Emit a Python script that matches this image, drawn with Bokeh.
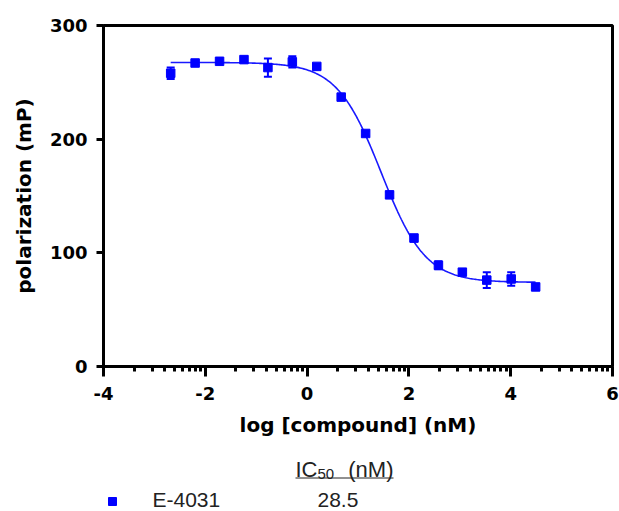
import numpy as np
from bokeh.plotting import figure
from bokeh.models import Range1d, FixedTicker, Whisker, ColumnDataSource, TeeHead
from bokeh.layouts import column
from bokeh.core.properties import value
from bokeh.embed import file_html
from bokeh.resources import INLINE

# ---- data ----
log_conc = [-2.68, -2.20, -1.72, -1.24, -0.77, -0.29, 0.19, 0.67,
            1.15, 1.62, 2.10, 2.58, 3.05, 3.53, 4.01, 4.49]
polarization = [258, 267, 268.5, 270, 263, 268, 264, 237,
                205, 151, 113, 89, 83, 76, 77, 70]
sem = [5, 1.5, 1.5, 2, 8, 5, 2, 1, 2, 2.5, 3, 3.5, 1.5, 7, 6, 2.5]

# four-parameter logistic fit shown in the chart
fit_top = 267.5
fit_bottom = 74.0
ic50_nM = 28.5
hill_slope = 1.0

x_ticks = [-4, -2, 0, 2, 4, 6]
x_tick_labels = ["-4", "-2", "0", "2", "4", "6"]
y_ticks = [0, 100, 200, 300]
compound_name = "E-4031"
ic50_label = "28.5"

BLUE = "#0000FF"
BOLD_FONT = "DejaVu Sans"

# ---- main plot ----
W = 619
H1 = 441
FL, FR = 103, 612   # frame edges in page pixels
p = figure(width=W, height=H1, output_backend="svg", toolbar_location=None,
           x_range=Range1d(-4, 6), y_range=Range1d(0, 300),
           min_border_left=FL, min_border_right=W - FR, min_border_top=25,
           min_border_bottom=H1 - 366)
p.background_fill_color = "white"
p.border_fill_color = "white"
p.outline_line_color = "black"
p.outline_line_width = 3
p.xgrid.visible = False
p.ygrid.visible = False

# fitted curve
xc = np.linspace(min(log_conc), max(log_conc), 300)
yc = fit_bottom + (fit_top - fit_bottom) / (1 + 10 ** ((xc - np.log10(ic50_nM)) * hill_slope))
p.line(xc, yc, line_color=BLUE, line_width=1.6, line_alpha=0.9)

src = ColumnDataSource(dict(
    x=log_conc, y=polarization,
    upper=[v + e for v, e in zip(polarization, sem)],
    lower=[v - e for v, e in zip(polarization, sem)],
))
wh = Whisker(source=src, base="x", upper="upper", lower="lower",
             line_color=BLUE, line_width=2,
             upper_head=TeeHead(size=8, line_color=BLUE, line_width=2),
             lower_head=TeeHead(size=8, line_color=BLUE, line_width=2))
p.add_layout(wh)
p.scatter("x", "y", source=src, marker="square", size=8.5,
          fill_color=BLUE, line_color=BLUE)

# x axis: major ticks every 2, log-spaced minor ticks inside each interval
minor = []
for a in x_ticks[:-1]:
    for k in range(2, 10):
        minor.append(a + 2 * np.log10(k))
p.xaxis.ticker = FixedTicker(ticks=x_ticks, minor_ticks=minor)
p.xaxis.major_label_overrides = {t: s for t, s in zip(x_ticks, x_tick_labels)}
p.yaxis.ticker = FixedTicker(ticks=y_ticks)

for ax in (p.xaxis[0], p.yaxis[0]):
    ax.axis_line_width = 3
    ax.axis_line_color = "black"
    ax.major_tick_line_width = 3
    ax.major_tick_line_color = "black"
    ax.major_tick_in = 0
    ax.major_label_text_font = BOLD_FONT
    ax.major_label_text_font_style = "bold"
    ax.major_label_text_font_size = "18px"
    ax.major_label_text_color = "black"
    ax.axis_label_text_font = BOLD_FONT
    ax.axis_label_text_font_style = "bold"
    ax.axis_label_text_font_size = "20px"
    ax.axis_label_text_color = "black"

p.xaxis.major_tick_out = 10
p.xaxis.minor_tick_out = 5
p.xaxis.minor_tick_in = 0
p.xaxis.minor_tick_line_width = 3
p.xaxis.minor_tick_line_color = "black"
p.xaxis.major_label_standoff = 10
p.xaxis.axis_label = "log [compound] (nM)"
p.xaxis.axis_label_standoff = 10

p.yaxis.major_tick_out = 7
p.yaxis.minor_tick_line_color = None
p.yaxis.major_label_standoff = 9
p.yaxis.axis_label = "polarization (mP)"
p.yaxis.axis_label_standoff = 11

# ---- IC50 table below (frame aligned with the plot frame, so x = page px) ----
H2 = 511 - H1
q = figure(width=W, height=H2, output_backend="svg", toolbar_location=None,
           x_range=Range1d(FL, FR), y_range=Range1d(H2, 0),
           min_border_left=FL, min_border_right=W - FR,
           min_border_top=0, min_border_bottom=0)
q.axis.visible = False
q.xgrid.visible = False
q.ygrid.visible = False
q.outline_line_color = None
q.background_fill_color = "white"
q.border_fill_color = "white"

REG = value("Liberation Sans")
TXT = "#222222"
q.text(x=[295], y=[28], text=["IC"], text_font=REG, text_font_size="22px",
       text_baseline="middle", text_align="left", text_color=TXT)
q.text(x=[317], y=[32], text=["50"], text_font=REG, text_font_size="15px",
       text_baseline="middle", text_align="left", text_color=TXT)
q.text(x=[393], y=[28], text=["(nM)"], text_font=REG, text_font_size="22px",
       text_baseline="middle", text_align="right", text_color=TXT)
q.line(x=[295, 393], y=[36.5, 36.5], line_color=TXT, line_width=1)

q.scatter(x=[112], y=[60], marker="square", size=8,
          fill_color=BLUE, line_color=BLUE)
q.text(x=[152], y=[58], text=[compound_name], text_font=REG, text_font_size="21px",
       text_baseline="middle", text_align="left", text_color=TXT)
q.text(x=[317], y=[58], text=[ic50_label], text_font=REG, text_font_size="21px",
       text_baseline="middle", text_align="left", text_color=TXT)

layout = column(p, q, spacing=0)
open("out.html", "w").write(file_html(layout, INLINE))
